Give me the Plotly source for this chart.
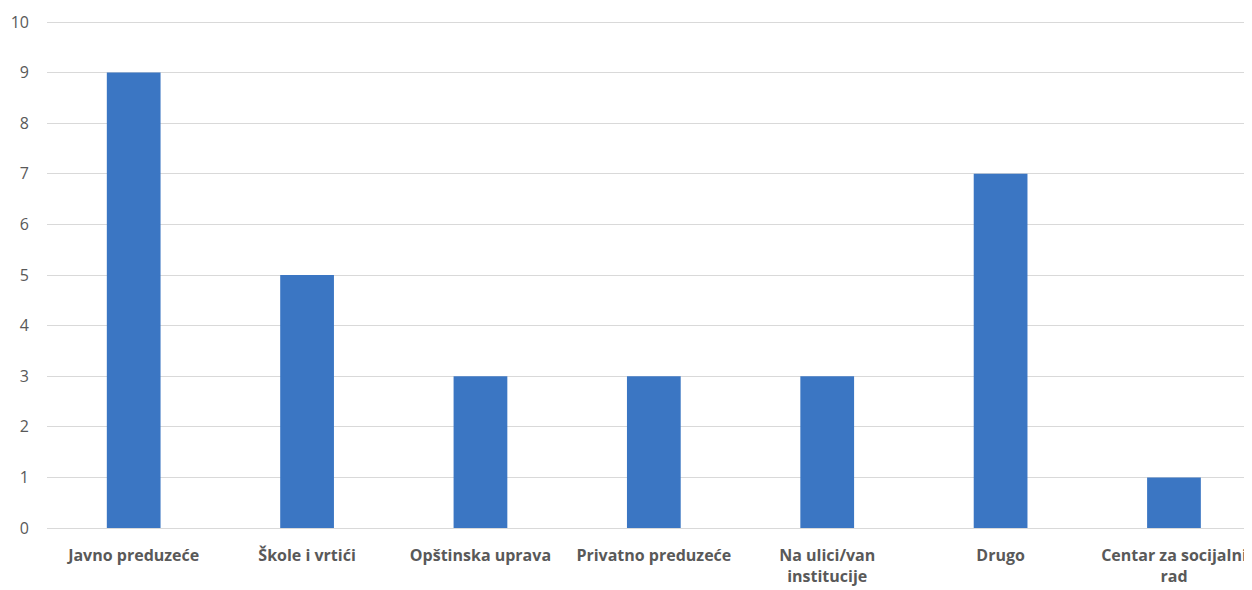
import plotly.graph_objects as go

categories = ["Javno preduzeće", "Škole i vrtići", "Opštinska uprava", "Privatno preduzeće",
              "Na ulici/van<br>institucije", "Drugo", "Centar za socijalni<br>rad"]
values = [9, 5, 3, 3, 3, 7, 1]
y_ticks = list(range(0, 11))

fig = go.Figure(go.Bar(x=categories, y=values, marker_color="#3B76C3",
                       marker_line_width=0, width=0.31))

fig.update_layout(
    width=1244, height=582,
    margin=dict(l=39, r=0, t=13, b=62),
    plot_bgcolor="white", paper_bgcolor="white",
    showlegend=False,
    bargap=0.69,
)
fig.update_xaxes(
    range=[-0.5, 6.45], showgrid=False, showline=False, ticks="", automargin=False,
    tickfont=dict(family="Open Sans", size=16, color="#595959", weight="bold"),
    ticklabelstandoff=16,
)
fig.update_yaxes(
    range=[0, 10.02], tickvals=y_ticks, showgrid=True, gridcolor="#D9D9D9", gridwidth=1.3,
    zeroline=True, zerolinecolor="#D9D9D9", zerolinewidth=1.3, showline=False, ticks="",
    automargin=False,
    tickfont=dict(family="Open Sans", size=16, color="#595959"),
    ticklabelstandoff=17,
)
fig.write_html("out.html")
